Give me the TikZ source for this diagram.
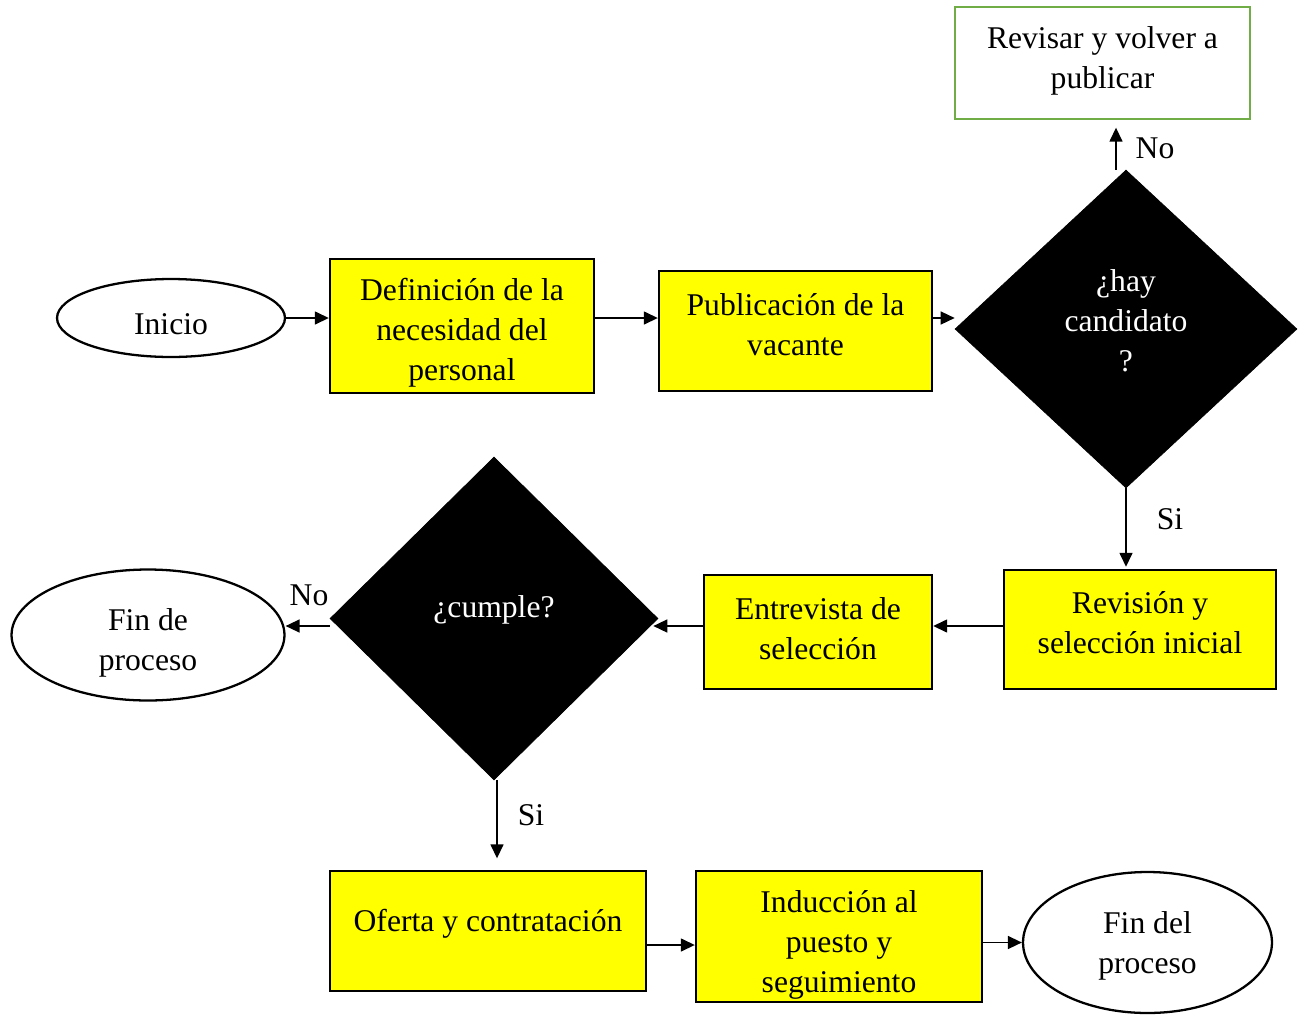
\documentclass[tikz,border=0pt]{standalone}
\usepackage{fontspec}
\setmainfont{Liberation Serif}
\usetikzlibrary{shapes.geometric,arrows.meta,calc}
\definecolor{boxyellow}{RGB}{255,255,0}
\definecolor{boxgreen}{RGB}{112,173,71}
\tikzset{
  txt/.style={font=\fontsize{18}{22.8}\selectfont, align=center, inner sep=0pt},
  ybox/.style={draw=black, line width=1.4pt, fill=boxyellow, inner sep=0pt},
  gbox/.style={draw=boxgreen, line width=1.3pt, fill=white, inner sep=0pt},
  oval/.style={ellipse, draw=black, line width=1.3pt, fill=white, inner sep=0pt},
  dmd/.style={diamond, draw=black, fill=black, inner sep=0pt},
  arr/.style={line width=0.85pt, draw=black, -{Triangle[length=0.28cm,width=0.26cm]}},
  lbl/.style={txt}
}
\begin{document}
\begin{tikzpicture}[x=0.02cm,y=-0.02cm]
\useasboundingbox (0,0) rectangle (1299,1015);
% shapes
\node[oval, minimum width=4.56cm, minimum height=1.56cm] (ini) at (171,318) {};
\node[ybox, minimum width=5.28cm, minimum height=2.68cm] (def) at (462,326) {};
\node[ybox, minimum width=5.46cm, minimum height=2.40cm] (pub) at (795.5,331) {};
\node[dmd, minimum width=6.84cm, minimum height=6.36cm] (d1) at (1126,329) {};
\node[gbox, minimum width=5.9cm, minimum height=2.24cm] (rev) at (1102.5,63) {};
\node[ybox, minimum width=5.44cm, minimum height=2.38cm] (rsi) at (1140,629.5) {};
\node[ybox, minimum width=4.56cm, minimum height=2.28cm] (ent) at (818,632) {};
\node[dmd, minimum width=6.56cm, minimum height=6.46cm] (d2) at (494,618.5) {};
\node[oval, minimum width=5.46cm, minimum height=2.62cm] (fin1) at (148,635) {};
\node[ybox, minimum width=6.32cm, minimum height=2.40cm] (ofe) at (488,931) {};
\node[ybox, minimum width=5.72cm, minimum height=2.62cm] (ind) at (839,936.5) {};
\node[oval, minimum width=4.98cm, minimum height=2.82cm] (fin2) at (1147.5,942.5) {};
% texts
\node[txt] (init) at (171,324) {Inicio};
\node[txt] (deft) at (462,333) {Definición de la\\necesidad del\\personal};
\node[txt] (pubt) at (795.5,325) {Publicación de la\\vacante};
\node[txt, text=white] (d1t) at (1126,321) {¿hay\\candidato\\?};
\node[txt] (revt) at (1102.5,61) {Revisar y volver a\\publicar};
\node[txt] (rsit) at (1140,623) {Revisión y\\selección inicial};
\node[txt] (entt) at (818,629) {Entrevista de\\selección};
\node[txt, text=white] (d2t) at (494,610) {¿cumple?};
\node[txt] (fin1t) at (148,643) {Fin de\\proceso};
\node[txt] (ofet) at (488,924) {Oferta y contratación};
\node[txt] (indt) at (839,945) {Inducción al\\puesto y\\seguimiento};
\node[txt] (fin2t) at (1147.5,945.5) {Fin del\\proceso};
% labels
\node[lbl] (no1) at (1155,148) {No};
\node[lbl] (si1) at (1170,519) {Si};
\node[lbl] (no2) at (309,595) {No};
\node[lbl] (si2) at (531,815) {Si};
% connectors
\draw[arr] (ini.east) -- (ini.east -| def.west);
\draw[arr] (ini.east -| def.east) -- (ini.east -| pub.west);
\draw[arr] (ini.east -| pub.east) -- (ini.east -| d1.west);
\draw[arr] ([xshift=-0.2cm]d1.north) -- ([xshift=-0.2cm,yshift=0.84cm]d1.north);
\draw[arr] (d1.south) -- ([yshift=0.04cm]d1.south |- rsi.north);
\draw[arr] ([yshift=0.07cm]rsi.west) -- ([yshift=0.07cm]rsi.west -| ent.east);
\draw[arr] ([yshift=0.12cm]ent.west) -- ([yshift=0.12cm,xshift=-0.1cm]ent.west -| d2.east);
\draw[arr] ([yshift=-0.15cm]d2.west) -- ([yshift=-0.15cm]d2.west -| fin1.east);
\draw[arr] ([xshift=0.06cm]d2.south) -- ([xshift=0.06cm,yshift=-1.56cm]d2.south);
\draw[arr] ([yshift=-0.28cm]ofe.east) -- ([yshift=-0.28cm]ofe.east -| ind.west);
\draw[arr] (ind.east |- fin2.west) -- (fin2.west);
\end{tikzpicture}
\end{document}
